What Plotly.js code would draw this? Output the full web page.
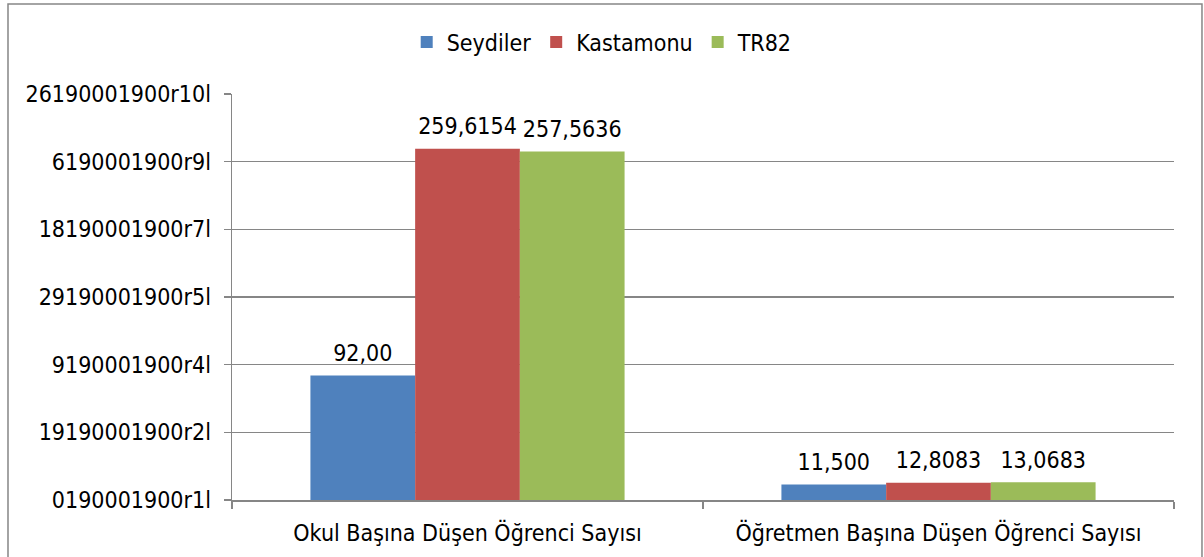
<!DOCTYPE html>
<html>
<head>
<meta charset="utf-8">
<script src="https://cdn.plot.ly/plotly-3.0.1.min.js"></script>
<style>
  html, body { margin: 0; padding: 0; background: #fff; }
  #chart { width: 1204px; height: 557px; }
</style>
</head>
<body>
<div id="chart"></div>
<script>
// categories and series
const categories = ['Okul Başına Düşen Öğrenci Sayısı', 'Öğretmen Başına Düşen Öğrenci Sayısı'];
const seriesNames = ['Seydiler', 'Kastamonu', 'TR82'];
const seydiler = [92.00, 11.500];
const kastamonu = [259.6154, 12.8083];
const tr82 = [257.5636, 13.0683];
// labels as printed on the bars
const seydilerLabels = ['92,00', '11,500'];
const kastamonuLabels = ['259,6154', '12,8083'];
const tr82Labels = ['257,5636', '13,0683'];
// y axis ticks, with the odd label texts of the original
const yTickVals = [0, 50, 100, 150, 200, 250, 300];
const yTickText = ['0190001900r1l', '19190001900r2l', '9190001900r4l', '29190001900r5l',
                   '18190001900r7l', '6190001900r9l', '26190001900r10l'];

const colors = ['#4F81BD', '#C0504D', '#9BBB59'];
const fontFam = '"DejaVu Sans Condensed", "DejaVu Sans", sans-serif';
const gridCol = '#868686';

const values = [seydiler, kastamonu, tr82];
const labels = [seydilerLabels, kastamonuLabels, tr82Labels];

const bars = seriesNames.map((name, i) => ({
    type: 'bar',
    name: name,
    x: categories,
    y: values[i],
    offsetgroup: 'g' + i,
    alignmentgroup: 'a',
    marker: { color: colors[i] },
    hoverinfo: 'none'
}));

// value labels: invisible markers on the bar tops, text above them
const valueLabels = seriesNames.map((name, i) => ({
    type: 'scatter',
    mode: 'markers+text',
    x: categories,
    y: values[i],
    text: labels[i],
    textposition: 'top center',
    offsetgroup: 'g' + i,
    alignmentgroup: 'a',
    cliponaxis: false,
    textfont: { family: fontFam, size: 23, color: '#000' },
    marker: { size: 12, color: 'rgba(0,0,0,0)' },
    showlegend: false,
    hoverinfo: 'none'
}));

const layout = {
    width: 1204,
    height: 557,
    margin: { l: 232, r: 30, t: 94, b: 57 },
    paper_bgcolor: '#fff',
    plot_bgcolor: '#fff',
    font: { family: fontFam, size: 23, color: '#000' },
    barmode: 'group',
    bargap: 0.333,
    bargroupgap: 0,
    scattermode: 'group',
    showlegend: true,
    legend: {
        orientation: 'h',
        x: 0.393, xanchor: 'center',
        y: 1.128, yanchor: 'middle',
        font: { family: fontFam, size: 23, color: '#000' },
        traceorder: 'normal'
    },
    xaxis: {
        type: 'category',
        showline: true,
        linecolor: gridCol,
        linewidth: 1.5,
        ticks: 'outside',
        tickson: 'boundaries',
        ticklen: 7,
        tickcolor: gridCol,
        tickwidth: 1.5,
        ticklabelstandoff: 12,
        showgrid: false,
        zeroline: false,
        fixedrange: true
    },
    yaxis: {
        range: [0, 300],
        tickmode: 'array',
        tickvals: yTickVals,
        ticktext: yTickText,
        showline: true,
        linecolor: gridCol,
        linewidth: 1.5,
        ticks: 'outside',
        ticklen: 7,
        tickcolor: gridCol,
        tickwidth: 1.5,
        ticklabelstandoff: 8,
        showgrid: true,
        gridcolor: gridCol,
        gridwidth: 1.5,
        zeroline: false,
        fixedrange: true
    },
    shapes: [{
        // outer frame of the chart
        type: 'rect', xref: 'paper', yref: 'paper',
        x0: -0.2378, x1: 1.0297, y0: -0.3, y1: 1.2217,
        line: { color: gridCol, width: 1.5 },
        fillcolor: 'rgba(0,0,0,0)',
        layer: 'below'
    }]
};

Plotly.newPlot('chart', bars.concat(valueLabels), layout, { displayModeBar: false, staticPlot: true });
</script>
</body>
</html>
